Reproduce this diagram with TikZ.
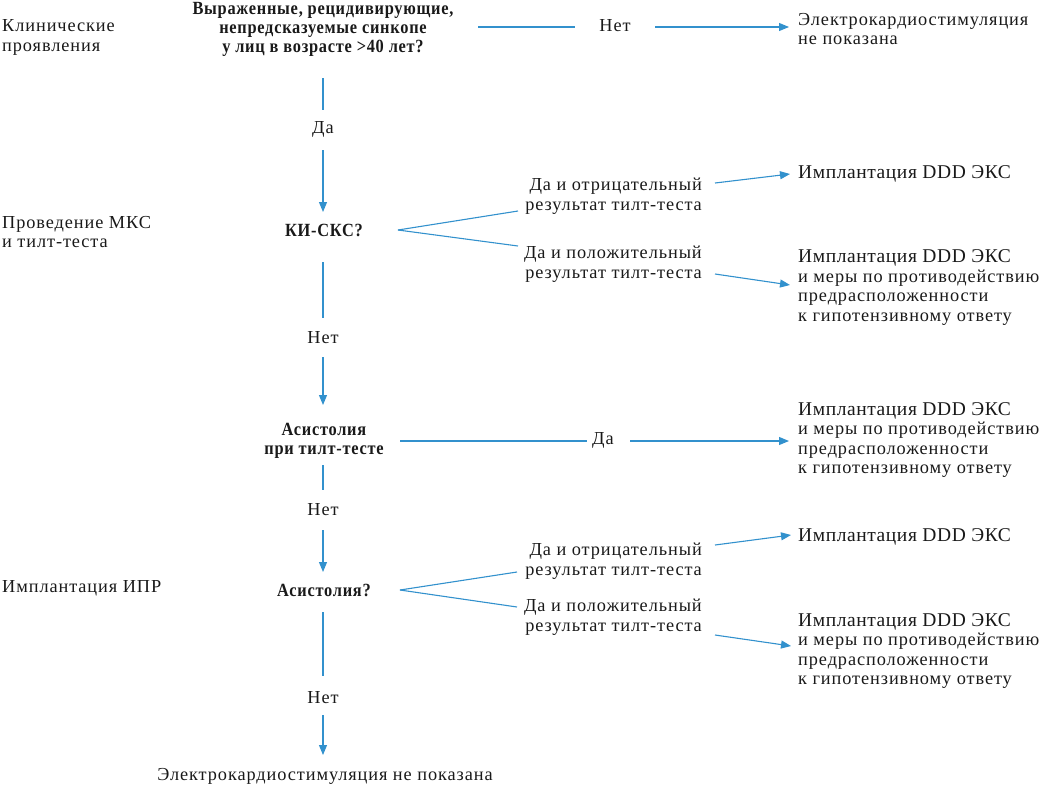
\documentclass[tikz,border=0pt]{standalone}
\usepackage{fontspec}
\setmainfont{Liberation Serif}[LetterSpace=5]
\newfontfamily\bigfont{Liberation Serif}[LetterSpace=3]
\newfontfamily\qfont{Liberation Serif Bold}[FakeStretch=0.88,LetterSpace=4]
\usetikzlibrary{arrows.meta,calc}
\definecolor{lb}{RGB}{50,145,205}
\definecolor{ink}{RGB}{25,25,25}
\newcommand{\bigimpl}{{\bigfont\fontsize{19.5}{19.5}\selectfont Имплантация DDD ЭКС}}
\begin{document}
\begin{tikzpicture}[x=1pt,y=-1pt,
  txt/.style={inner sep=0pt, text=ink, font=\fontsize{18.3}{19.5}\selectfont, align=left},
  rtxt/.style={txt, align=right, anchor=east},
  ltxt/.style={txt, anchor=west},
  qq/.style={inner sep=0pt, text=ink, font=\qfont\fontsize{18.6}{19}\selectfont, align=center},
  ln/.style={draw=lb, line width=1.1pt},
  arr/.style={ln, -{Triangle[length=10pt,width=8pt]}}]
\useasboundingbox (0,0) rectangle (1041,785);

% left column
\node[ltxt] (l1) at (2,37.5) {Клинические\\проявления};
\node[ltxt] (l2) at (2,232) {Проведение МКС\\и тилт-теста};
\node[ltxt] (l3) at (2,588) {Имплантация ИПР};

% main column
\node[qq] (q1) at (323,29) {Выраженные, рецидивирующие,\\непредсказуемые синкопе\\у лиц в возрасте >40 лет?};
\node[txt] (no1) at (615,26) {Нет};
\node[ltxt] (r1) at (798,29) {Электрокардиостимуляция\\не показана};
\node[txt] (da1) at (323,129) {Да};
\node[qq] (ki) at (324,230) {КИ-СКС?};
\node[rtxt] (la1) at (702,196) {Да и отрицательный\\результат тилт-теста};
\node[rtxt] (la2) at (702,264) {Да и положительный\\результат тилт-теста};
\node[ltxt] (r2) at (798,174) {\bigimpl};
\node[ltxt] (r3) at (798,287.5) {\bigimpl\\и меры по противодействию\\предрасположенности\\к гипотензивному ответу};
\node[txt] (net2) at (323,338) {Нет};
\node[qq] (as1) at (324,441) {Асистолия\\при тилт-тесте};
\node[txt] (da2) at (603,440) {Да};
\node[ltxt] (r4) at (798,440) {\bigimpl\\и меры по противодействию\\предрасположенности\\к гипотензивному ответу};
\node[txt] (net3) at (323,510) {Нет};
\node[qq] (as2) at (324,590) {Асистолия?};
\node[rtxt] (la3) at (702,561) {Да и отрицательный\\результат тилт-теста};
\node[rtxt] (la4) at (702,617) {Да и положительный\\результат тилт-теста};
\node[ltxt] (r5) at (798,537) {\bigimpl};
\node[ltxt] (r6) at (798,651) {\bigimpl\\и меры по противодействию\\предрасположенности\\к гипотензивному ответу};
\node[txt] (net4) at (323,698) {Нет};
\node[txt] (r7) at (325,776) {Электрокардиостимуляция не показана};

% connectors
\draw[ln] ($(q1)+(155,-2)$) -- ($(no1)+(-40,1)$);
\draw[arr] ($(no1)+(40,1)$) -- ($(r1.west)+(-9,-2)$);
\draw[ln] ($(q1)+(0,49)$) -- ($(da1)+(0,-19)$);
\draw[arr] ($(da1)+(0,21)$) -- ($(da1 |- ki)+(0,-18)$);
\draw[ln] ($(ki)+(74,0)$) -- ($(la1.east)+(-184,15)$);
\draw[ln] ($(ki)+(74,0)$) -- ($(la2.east)+(-184,-18)$);
\draw[arr] ($(la1.east)+(13,-13)$) -- ($(r2.west)+(-8,0)$);
\draw[arr] ($(la2.east)+(13,10)$) -- ($(r3.west)+(-8,-2.5)$);
\draw[ln] ($(da1 |- ki)+(0,32)$) -- ($(net2)+(0,-20)$);
\draw[arr] ($(net2)+(0,19)$) -- ($(net2 |- as1)+(0,-36)$);
\draw[ln] ($(as1)+(76,0)$) -- ($(da2)+(-16,1)$);
\draw[arr] ($(da2)+(27,1)$) -- ($(r4.west)+(-9,1)$);
\draw[ln] ($(net2 |- as1)+(0,24)$) -- ($(net3)+(0,-20)$);
\draw[arr] ($(net3)+(0,20)$) -- ($(net3 |- as2)+(0,-18)$);
\draw[ln] ($(as2)+(76,0)$) -- ($(la3.east)+(-185,11)$);
\draw[ln] ($(as2)+(76,0)$) -- ($(la4.east)+(-185,-10)$);
\draw[arr] ($(la3.east)+(13,-16)$) -- ($(r5.west)+(-7,-2)$);
\draw[arr] ($(la4.east)+(13,18)$) -- ($(r6.west)+(-7,-5)$);
\draw[ln] ($(net3 |- as2)+(0,22)$) -- ($(net4)+(0,-22)$);
\draw[arr] ($(net4)+(0,17)$) -- ($(net4 |- r7)+(0,-21)$);
\end{tikzpicture}
\end{document}
